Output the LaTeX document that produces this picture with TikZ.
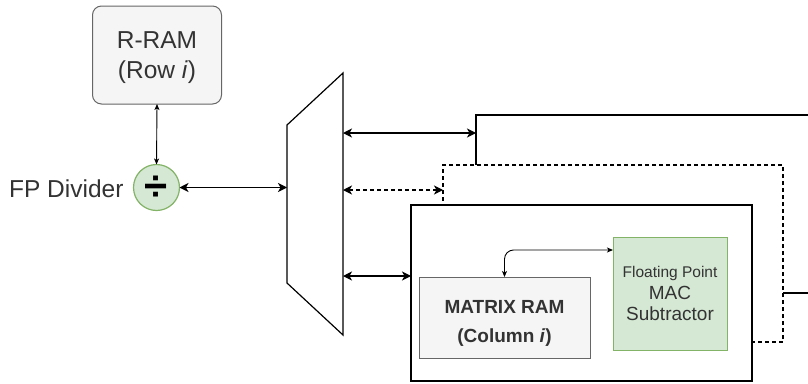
\documentclass[tikz,border=0pt]{standalone}
\usepackage{fontspec}
\setmainfont{Liberation Sans}
\usetikzlibrary{arrows.meta}
\definecolor{greenfill}{HTML}{D5E8D4}
\definecolor{greenline}{HTML}{82B366}
\definecolor{grayfill}{HTML}{F5F5F5}
\definecolor{grayline}{HTML}{666666}
\definecolor{txt}{HTML}{333333}
\tikzset{
  box/.style={draw=black, line width=1.2pt, fill=white, inner sep=0pt, outer sep=0pt},
  rambox/.style={draw=grayline, line width=1pt, fill=grayfill, inner sep=0pt, outer sep=0pt},
  macbox/.style={draw=greenline, line width=1pt, fill=greenfill, inner sep=0pt, outer sep=0pt, text=txt, align=center},
  boxtext/.style={text=txt, align=center, inner sep=0pt},
  bus/.style={line width=1.2pt, {Stealth[length=9pt,width=9pt,inset=2.5pt]}-{Stealth[length=9pt,width=9pt,inset=2.5pt]}},
  thinlink/.style={line width=0.9pt, {Stealth[length=6pt,width=5pt,inset=1.5pt]}-{Stealth[length=6pt,width=5pt,inset=1.5pt]}},
  dashedline/.style={dash pattern=on 4pt off 3pt},
}
\begin{document}
\begin{tikzpicture}[x=1pt,y=-1pt]
\useasboundingbox (0,0) rectangle (808,383);
\clip (0,0) rectangle (808,383);

% Row memory and divider
\node[rambox, rounded corners=9pt, minimum width=129pt, minimum height=98pt] (rram) at (157,55) {};
\node[boxtext, font=\fontsize{24.5}{30}\selectfont] (rramtext) at ([yshift=-3pt]rram.center)
      {R-RAM\\(Row \textit{i})};
\node[circle, draw=greenline, fill=greenfill, line width=1.2pt, minimum size=46pt,
      inner sep=0pt, outer sep=0pt] (div) at (156.5,187.5) {};
\node[font=\bfseries\fontsize{42}{42}\selectfont, text=black] (divsign) at ([yshift=-1pt]div.center) {÷};
\node[anchor=east, text=txt, font=\fontsize{24.5}{28}\selectfont] (divlabel) at (127,189) {FP Divider};
\draw[thinlink] (rram.south) -- (div.north);

% Multiplexer
\draw[line width=1.2pt, fill=white] (287,125) -- (343,73) -- (343,335) -- (287,283) -- cycle;
\coordinate (muxin) at (287,187.5);
\coordinate (mux1) at (343,133);
\coordinate (mux2) at (343,190);
\coordinate (mux3) at (343,276);
\draw[bus] (div.east) -- (muxin);

% Stacked processing elements
\node[box, minimum width=380pt, minimum height=178pt, anchor=north west] (pe1) at (476,115) {};
\node[box, dashedline, minimum width=340pt, minimum height=177pt, anchor=north west] (pe2) at (443,165) {};
\node[box, minimum width=341pt, minimum height=176pt, anchor=north west] (pe3) at (411,205) {};

\draw[bus] (mux1) -- (mux1 -| pe1.west);
\draw[bus, dashedline] (mux2) -- (mux2 -| pe2.west);
\draw[bus] (mux3) -- (mux3 -| pe3.west);

% Contents of the front element
\node[rambox, minimum width=171pt, minimum height=81pt, anchor=north west] (ram) at (419,277) {};
\node[boxtext, font=\bfseries\fontsize{19}{29}\selectfont] (ramtext) at ([yshift=-6pt]ram.center)
      {MATRIX RAM\\(Column \textit{i})};
\node[macbox, minimum width=114pt, minimum height=113pt, anchor=north west,
      font=\fontsize{19}{21.5}\selectfont] (mac) at (613,237)
      {{\fontsize{15.5}{17}\selectfont Floating Point}\\
       MAC\\
       Subtractor};
\draw[thinlink, rounded corners=9pt] (ram.north) |- ([yshift=-13pt]mac.north west);
\end{tikzpicture}
\end{document}
